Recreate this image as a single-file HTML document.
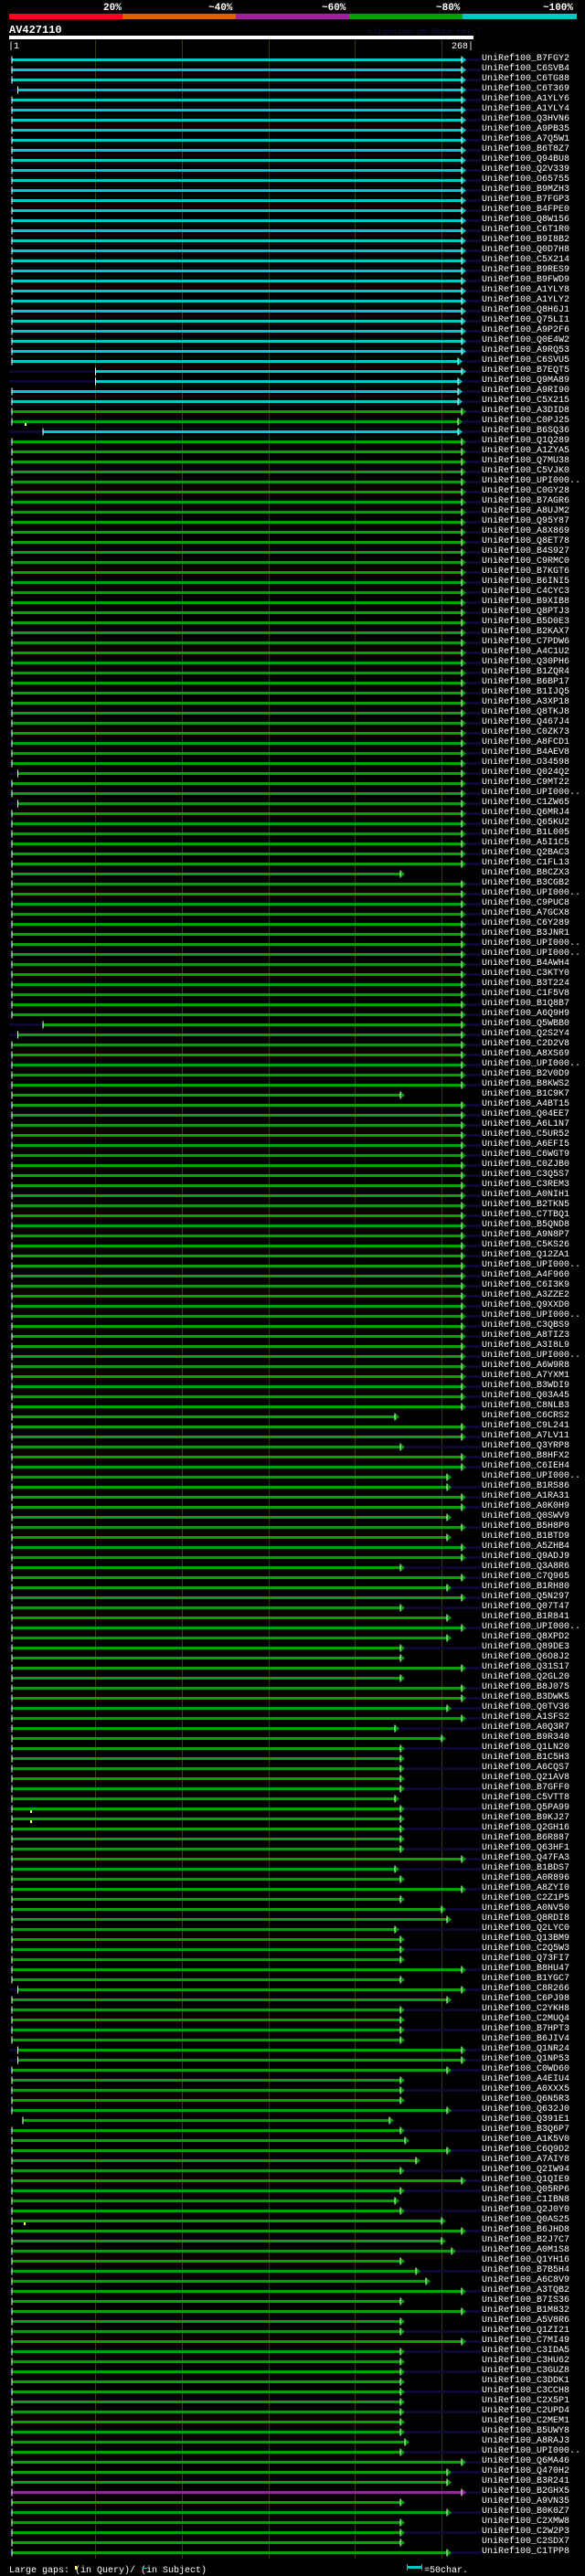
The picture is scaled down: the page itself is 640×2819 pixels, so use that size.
<!DOCTYPE html>
<html><head><meta charset="utf-8"><style>
html,body{margin:0;padding:0;background:#000;}
body{width:640px;height:2819px;position:relative;overflow:hidden;font-family:"Liberation Mono",monospace;}
#lab{position:absolute;left:527px;top:59px;margin:0;font:10px/11px "Liberation Mono",monospace;color:#fff;white-space:pre;}
svg{position:absolute;left:0;top:0;}
</style></head><body>
<svg id="s" width="640" height="2819" xmlns="http://www.w3.org/2000/svg">
<rect x="10" y="15" width="124" height="6" fill="#ff0020"/>
<rect x="134" y="15" width="124" height="6" fill="#e06000"/>
<rect x="258" y="15" width="124" height="6" fill="#a020a0"/>
<rect x="382" y="15" width="124" height="6" fill="#00a000"/>
<rect x="506" y="15" width="125" height="6" fill="#00c8c8"/>
<g font-family="Liberation Mono, monospace" font-size="11" font-weight="bold" fill="#fff">
<text x="113" y="11">20%</text>
<text x="228" y="11">~40%</text>
<text x="352" y="11">~60%</text>
<text x="477" y="11">~80%</text>
<text x="594" y="11">~100%</text>
<text x="10" y="36" font-size="12">AV427110</text>
</g>
<text x="402" y="37" font-family="Liberation Mono, monospace" font-size="9" fill="#101040">AlignView.pm Beta rel.7</text>
<rect x="10" y="39" width="508" height="4" fill="#fff"/>
<text x="9" y="53" font-family="Liberation Mono, monospace" font-size="10" fill="#fff">|1</text>
<text x="494" y="53" font-family="Liberation Mono, monospace" font-size="10" fill="#fff">268|</text>
<g id="grid" stroke="#3a3a12" stroke-width="1">
<line x1="104.5" y1="44" x2="104.5" y2="2800"/>
<line x1="199.5" y1="44" x2="199.5" y2="2800"/>
<line x1="294.5" y1="44" x2="294.5" y2="2800"/>
<line x1="388.5" y1="44" x2="388.5" y2="2800"/>
<line x1="483.5" y1="44" x2="483.5" y2="2800"/>
</g>
<g id="rows"></g>
<text x="10" y="2815" font-family="Liberation Mono, monospace" font-size="10" fill="#fff">Large gaps:  (in Query)/  (in Subject)</text>
<rect x="82" y="2808" width="2" height="4" fill="#ffff60"/>
<rect x="156" y="2810" width="5" height="1" fill="#00c8c8"/>
<rect x="445" y="2808" width="16" height="3" fill="#00c8c8"/>
<rect x="445" y="2806" width="1" height="7" fill="#888"/>
<rect x="461" y="2806" width="1" height="7" fill="#888"/>
<text x="464" y="2815" font-family="Liberation Mono, monospace" font-size="10" fill="#fff">=50char.</text>
</svg>
<pre id="lab">UniRef100_B7FGY2
UniRef100_C6SVB4
UniRef100_C6TG88
UniRef100_C6T369
UniRef100_A1YLY6
UniRef100_A1YLY4
UniRef100_Q3HVN6
UniRef100_A9PB35
UniRef100_A7Q5W1
UniRef100_B6T8Z7
UniRef100_Q94BU8
UniRef100_Q2V339
UniRef100_O65755
UniRef100_B9MZH3
UniRef100_B7FGP3
UniRef100_B4FPE0
UniRef100_Q8W156
UniRef100_C6T1R0
UniRef100_B9I8B2
UniRef100_Q0D7H8
UniRef100_C5X214
UniRef100_B9RES9
UniRef100_B9FWD9
UniRef100_A1YLY8
UniRef100_A1YLY2
UniRef100_Q8H6J1
UniRef100_Q75LI1
UniRef100_A9P2F6
UniRef100_Q0E4W2
UniRef100_A9RQ53
UniRef100_C6SVU5
UniRef100_B7EQT5
UniRef100_Q9MA89
UniRef100_A9RI90
UniRef100_C5X215
UniRef100_A3DID8
UniRef100_C0PJ25
UniRef100_B6SQ36
UniRef100_Q1Q289
UniRef100_A1ZYA5
UniRef100_Q7MU38
UniRef100_C5VJK0
UniRef100_UPI000..
UniRef100_C0GY28
UniRef100_B7AGR6
UniRef100_A8UJM2
UniRef100_Q95Y87
UniRef100_A8X869
UniRef100_Q8ET78
UniRef100_B4S927
UniRef100_C9RMC0
UniRef100_B7KGT6
UniRef100_B6INI5
UniRef100_C4CYC3
UniRef100_B9XIB8
UniRef100_Q8PTJ3
UniRef100_B5D0E3
UniRef100_B2KAX7
UniRef100_C7PDW6
UniRef100_A4C1U2
UniRef100_Q30PH6
UniRef100_B1ZQR4
UniRef100_B6BP17
UniRef100_B1IJQ5
UniRef100_A3XP18
UniRef100_Q8TKJ8
UniRef100_Q467J4
UniRef100_C0ZK73
UniRef100_A8FCD1
UniRef100_B4AEV8
UniRef100_O34598
UniRef100_Q024Q2
UniRef100_C9MT22
UniRef100_UPI000..
UniRef100_C1ZW65
UniRef100_Q6MRJ4
UniRef100_Q65KU2
UniRef100_B1L005
UniRef100_A5I1C5
UniRef100_Q2BAC3
UniRef100_C1FL13
UniRef100_B8CZX3
UniRef100_B3CGB2
UniRef100_UPI000..
UniRef100_C9PUC8
UniRef100_A7GCX8
UniRef100_C6Y289
UniRef100_B3JNR1
UniRef100_UPI000..
UniRef100_UPI000..
UniRef100_B4AWH4
UniRef100_C3KTY0
UniRef100_B3T224
UniRef100_C1F5V8
UniRef100_B1Q8B7
UniRef100_A6Q9H9
UniRef100_Q5WBB0
UniRef100_Q2S2Y4
UniRef100_C2D2V8
UniRef100_A8XS69
UniRef100_UPI000..
UniRef100_B2V0D9
UniRef100_B8KWS2
UniRef100_B1C9K7
UniRef100_A4BT15
UniRef100_Q04EE7
UniRef100_A6L1N7
UniRef100_C5UR52
UniRef100_A6EFI5
UniRef100_C6WGT9
UniRef100_C0ZJB0
UniRef100_C3Q5S7
UniRef100_C3REM3
UniRef100_A0NIH1
UniRef100_B2TKN5
UniRef100_C7TBQ1
UniRef100_B5QND8
UniRef100_A9N8P7
UniRef100_C5KS26
UniRef100_Q12ZA1
UniRef100_UPI000..
UniRef100_A4F960
UniRef100_C6I3K9
UniRef100_A3ZZE2
UniRef100_Q9XXD0
UniRef100_UPI000..
UniRef100_C3QBS9
UniRef100_A8TIZ3
UniRef100_A3I8L9
UniRef100_UPI000..
UniRef100_A6W9R8
UniRef100_A7YXM1
UniRef100_B3WDI9
UniRef100_Q03A45
UniRef100_C8NLB3
UniRef100_C6CRS2
UniRef100_C9L241
UniRef100_A7LV11
UniRef100_Q3YRP8
UniRef100_B8HFX2
UniRef100_C6IEH4
UniRef100_UPI000..
UniRef100_B1RS86
UniRef100_A1RA31
UniRef100_A0K0H9
UniRef100_Q0SWV9
UniRef100_B5H8P0
UniRef100_B1BTD9
UniRef100_A5ZHB4
UniRef100_Q9ADJ9
UniRef100_Q3A8R6
UniRef100_C7Q965
UniRef100_B1RH80
UniRef100_Q5N297
UniRef100_Q07T47
UniRef100_B1R841
UniRef100_UPI000..
UniRef100_Q8XPD2
UniRef100_Q89DE3
UniRef100_Q6O8J2
UniRef100_Q31S17
UniRef100_Q2GL20
UniRef100_B8J075
UniRef100_B3DWK5
UniRef100_Q0TV36
UniRef100_A1SFS2
UniRef100_A0Q3R7
UniRef100_B9R340
UniRef100_Q1LN20
UniRef100_B1C5H3
UniRef100_A6CQS7
UniRef100_Q21AV8
UniRef100_B7GFF0
UniRef100_C5VTT8
UniRef100_Q5PA99
UniRef100_B9KJ27
UniRef100_Q2GH16
UniRef100_B6R887
UniRef100_Q63HF1
UniRef100_Q47FA3
UniRef100_B1BDS7
UniRef100_A0R896
UniRef100_A8ZYI0
UniRef100_C2Z1P5
UniRef100_A0NV50
UniRef100_Q8RDI8
UniRef100_Q2LYC0
UniRef100_Q13BM9
UniRef100_C2Q5W3
UniRef100_Q73FI7
UniRef100_B8HU47
UniRef100_B1YGC7
UniRef100_C8R266
UniRef100_C6PJ98
UniRef100_C2YKH8
UniRef100_C2MUQ4
UniRef100_B7HPT3
UniRef100_B6JIV4
UniRef100_Q1NR24
UniRef100_Q1NP53
UniRef100_C0WD60
UniRef100_A4EIU4
UniRef100_A0XXX5
UniRef100_Q6N5R3
UniRef100_Q632J0
UniRef100_Q391E1
UniRef100_B3Q6P7
UniRef100_A1K5V0
UniRef100_C6Q9D2
UniRef100_A7AIY8
UniRef100_Q2IW94
UniRef100_Q1QIE9
UniRef100_Q05RP6
UniRef100_C1IBN8
UniRef100_Q2J0Y0
UniRef100_Q0AS25
UniRef100_B6JHD8
UniRef100_B2J7C7
UniRef100_A0M1S8
UniRef100_Q1YH16
UniRef100_B7B5H4
UniRef100_A6C8V9
UniRef100_A3TQB2
UniRef100_B7IS36
UniRef100_B1M832
UniRef100_A5V8R6
UniRef100_Q1ZI21
UniRef100_C7MI49
UniRef100_C3IDA5
UniRef100_C3HU62
UniRef100_C3GUZ8
UniRef100_C3DDK1
UniRef100_C3CCH8
UniRef100_C2X5P1
UniRef100_C2UPD4
UniRef100_C2MEM1
UniRef100_B5UWY8
UniRef100_A8RAJ3
UniRef100_UPI000..
UniRef100_Q6MA46
UniRef100_Q470H2
UniRef100_B3R241
UniRef100_B2GHX5
UniRef100_A9VN35
UniRef100_B0K0Z7
UniRef100_C2XMW8
UniRef100_C2W2P3
UniRef100_C2SDX7
UniRef100_C1TPP8</pre>
<script>
(function(){
var N=249,ov={},i;
for(i=0;i<30;i++)ov[i]="C0F";
ov[3]="C1F";ov[30]="C0c";ov[31]="C3F";ov[32]="C3cn";ov[33]="C0c";ov[34]="C0c";ov[36]="G0c";ov[37]="C2c";
ov[71]="G1F";ov[74]="G1F";ov[81]="G0S";ov[96]="G2Fn";ov[97]="G1F";ov[103]="G0S";
var s={135:"G0d",138:"G0Sn",141:"G0a",142:"G0an",145:"G0a",147:"G0a",150:"G0Sn",152:"G0an",154:"G0Sn",155:"G0a",157:"G0a",158:"G0Sn",159:"G0S",161:"G0S",164:"G0an",166:"G0dn",167:"G0b",168:"G0Sn",169:"G0S",170:"G0Sn",171:"G0S",172:"G0Sn",173:"G0d",174:"G0Sn",175:"G0S",176:"G0Sn",177:"G0S",178:"G0Sn",180:"G0dn",181:"G0S",183:"G0S",184:"G0bn",185:"G0a",186:"G0dn",187:"G0S",188:"G0Sn",189:"G0S",191:"G0S",192:"G1F",193:"G0a",194:"G0Sn",195:"G0S",196:"G0Sn",197:"G0S",198:"G1F",199:"G1F",200:"G0an",201:"G0S",202:"G0Sn",203:"G0S",204:"G0an",205:"G4m",206:"G0Sn",207:"G0k",208:"G0an",209:"G0e",210:"G0Sn",212:"G0Sn",213:"G0d",214:"G0Sn",215:"G0b",217:"G0b",218:"G0hn",219:"G0S",220:"G0en",221:"G0g",223:"G0S",225:"G0S",226:"G0Sn",228:"G0Sn",229:"G0S",230:"G0Sn",231:"G0S",232:"G0Sn",233:"G0S",234:"G0Sn",235:"G0S",236:"G0Sn",237:"G0k",238:"G0Sn",240:"G0an",241:"G0a",242:"P0F",243:"G0S",244:"G0an",245:"G0S",246:"G0Sn",247:"G0S",248:"G0an"};
for(var k in s)ov[k]=s[k];
var col={C:"#00c8c8",G:"#00a000",P:"#a020a0"};
var st=[13,19.5,47,104.5,25];
var en={F:510,S:443,a:494,b:488,c:506,d:437,e:460,g:471,h:499,k:448,m:431};
var h="";
for(i=0;i<N;i++){
 var c=ov[i]||"G0F",y=65.5+11*i,x0=st[+c[1]],x1=en[c[2]],cl=col[c[0]];
 var navy=(c[2]=="F"||c[2]=="c"||c[3]=="n");
 if(navy)h+='<rect x="10" y="'+(y-1.5)+'" width="517" height="3" fill="#0a0a34"/>';
 h+='<rect x="'+x0+'" y="'+(y-1.5)+'" width="'+(x1-5-x0)+'" height="3" fill="'+cl+'"/>';
 h+='<rect x="'+(x0-0.5)+'" y="'+(y-4)+'" width="1" height="8" fill="#fff"/>';
 h+='<polygon points="'+(x1-5)+','+(y-4)+' '+x1+','+y+' '+(x1-5)+','+(y+4)+'" fill="'+cl+'"/>';
 h+='<rect x="'+(x1-5.5)+'" y="'+(y-4)+'" width="1" height="8" fill="#dfffdf"/>';
}
var m=[[36,27],[174,33],[175,33],[215,26]];
for(i=0;i<m.length;i++)h+='<rect x="'+m[i][1]+'" y="'+(65+11*m[i][0]+2)+'" width="2" height="3" fill="#ffff60"/>';
document.getElementById("rows").innerHTML=h;
})();
</script>
</body></html>
